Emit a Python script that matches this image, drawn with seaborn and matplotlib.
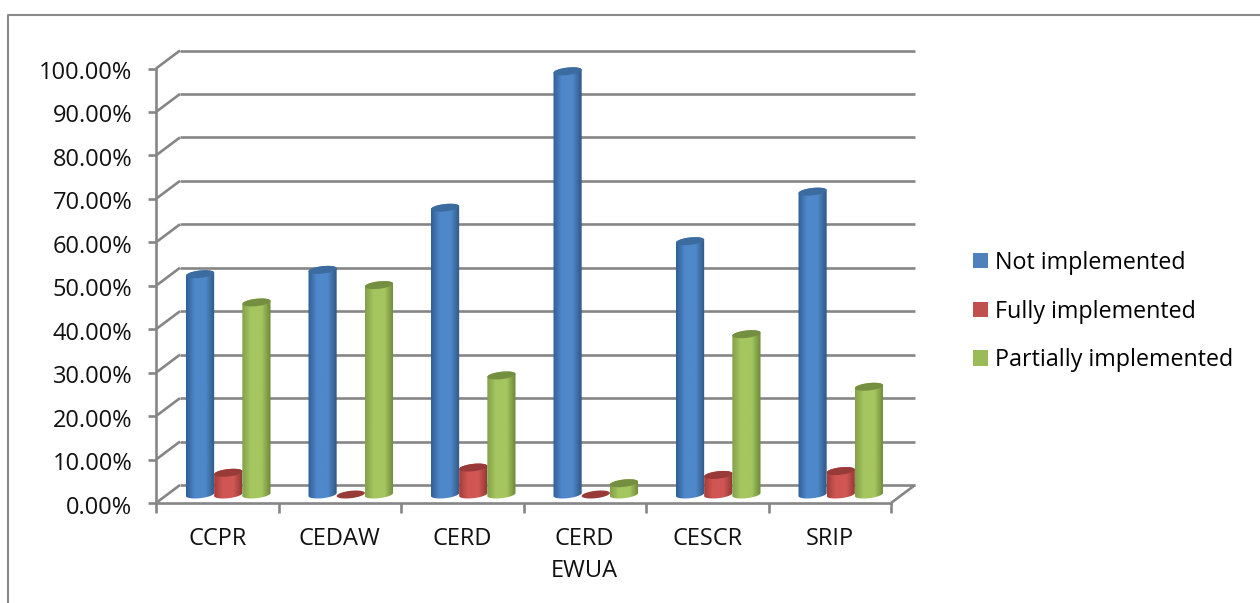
import numpy as np
import pandas as pd
import seaborn as sns
import matplotlib.pyplot as plt
from matplotlib.colors import LinearSegmentedColormap
from matplotlib.lines import Line2D
from matplotlib.patches import Polygon
from matplotlib.transforms import Affine2D

categories = ['CCPR', 'CEDAW', 'CERD', 'CERD\nEWUA', 'CESCR', 'SRIP']
series_names = ['Not implemented', 'Fully implemented', 'Partially implemented']
not_implemented = [50.7, 51.7, 66.0, 97.4, 58.3, 69.7]
fully_implemented = [5.0, 0.0, 6.2, 0.0, 4.5, 5.4]
partially_implemented = [44.2, 48.2, 27.4, 2.6, 36.9, 24.8]
y_ticks = list(range(0, 101, 10))

W, H = 1260, 603
X0, X1 = 156, 891          # front axis, pixels
Y0, Y100 = 503, 68.5
DEPTH_X, DEPTH_Y = 24, 18  # offset of the back wall
BAR_DX, BAR_DY = 11, 8.5   # bars stand in the middle of the floor
GREY = '#868686'
FONT = 'Open Sans'
FS = 17

colors = {'Not implemented': '#4f81bd', 'Fully implemented': '#c0504d',
          'Partially implemented': '#9bbb59'}
# edge, middle, edge, top cap
shades = {'Not implemented': ('#2f5f95', '#4f88ca', '#2f5884', '#3c6ba0'),
          'Fully implemented': ('#a33d3b', '#d05654', '#8f3633', '#983a38'),
          'Partially implemented': ('#83a04a', '#a5c65f', '#6c8838', '#748f3f')}

df = pd.DataFrame({
    'treaty': categories * 3,
    'status': np.repeat(series_names, len(categories)),
    'share': not_implemented + fully_implemented + partially_implemented,
})


def place(fig, x0, x1, y_bottom, y_top):
    return fig.add_axes([x0 / W, 1 - y_bottom / H, (x1 - x0) / W, (y_bottom - y_top) / H])


def cylinder(ax, bar, color_set, px_y):
    """Turn a flat seaborn bar into a shaded cylinder."""
    x0, w, v = bar.get_x(), bar.get_width(), bar.get_height()
    cx = x0 + w / 2
    hh = 3.7 / px_y
    tilt = 1.5 / px_y
    t = np.linspace(0, 2 * np.pi, 80)
    ex = cx + w / 2 * np.cos(t)
    ey = hh * np.sin(t) + tilt * np.cos(t)
    z = 3
    if v > 0:
        low = t >= np.pi
        high = t <= np.pi
        outline = np.vstack([np.column_stack([ex[low], ey[low]]),
                             np.column_stack([ex[high], ey[high] + v])])
        clip = Polygon(outline, transform=ax.transData)
        cmap = LinearSegmentedColormap.from_list('c', [(0, color_set[0]), (0.3, color_set[1]),
                                                       (0.68, color_set[1]), (1, color_set[2])])
        im = ax.imshow(np.linspace(0, 1, 64).reshape(1, -1), cmap=cmap, aspect='auto',
                       extent=[x0, x0 + w, -2 * hh, v + 2 * hh], zorder=z)
        im.set_clip_box(ax.figure.bbox)
        im.set_clip_path(clip)
    bar.set_visible(False)
    ax.fill(ex, ey + v, color=color_set[3], lw=0, zorder=z + 1, clip_on=False)


fig = plt.figure(figsize=(W / 100, H / 100), dpi=100, facecolor='white')
plt.rcParams['font.family'] = [FONT, 'DejaVu Sans']

ax = place(fig, X0, X1, Y0, Y100)
px_x = (X1 - X0) / len(categories)
px_y = (Y0 - Y100) / 100
ax.set_xlim(-0.5, len(categories) - 0.5)
ax.set_ylim(0, 100)
ax.patch.set_alpha(0)

# back wall grid and the floor
dx, dy = DEPTH_X / px_x, DEPTH_Y / px_y
line_kw = dict(color=GREY, lw=1.9, clip_on=False, solid_capstyle='butt')
for v in y_ticks:
    ax.plot([-0.5 + dx, 5.5 + dx], [v + dy, v + dy], **line_kw)
    ax.plot([-0.5, -0.5 + dx], [v, v + dy], **line_kw)
ax.plot([5.5, 5.5 + dx], [0, dy], **line_kw)

sns.despine(ax=ax)
for side in ['left', 'bottom']:
    ax.spines[side].set_color(GREY)
    ax.spines[side].set_linewidth(1.9)
ax.set_yticks(y_ticks)
ax.set_yticklabels([f'{v:.2f}%' for v in y_ticks], fontsize=FS, family=FONT, color='#111111')
ax.set_xticks(np.arange(-0.5, 6))
ax.set_xticklabels([])
ax.set_xticks(np.arange(len(categories)), minor=True)
ax.set_xticklabels(categories, minor=True, fontsize=FS, family=FONT, color='#111111', linespacing=1.45)
ax.tick_params(axis='y', length=6, width=1.9, color=GREY, pad=11)
ax.tick_params(axis='x', which='major', length=7, width=1.9, color=GREY)
ax.tick_params(axis='x', which='minor', length=0, pad=17.5)
for label in ax.get_yticklabels():
    label.set_transform(label.get_transform() + Affine2D().translate(0, -1.5))

# bars live on a transparent axes shifted onto the middle of the floor
bar_ax = place(fig, X0 + BAR_DX, X1 + BAR_DX, Y0 - BAR_DY, Y100 - BAR_DY)
bar_ax.patch.set_alpha(0)
sns.barplot(data=df, x='treaty', y='share', hue='status', hue_order=series_names,
            palette=colors, width=0.69, gap=0, saturation=1, linewidth=0, ax=bar_ax)
for name, container in zip(series_names, bar_ax.containers):
    for bar in container:
        cylinder(bar_ax, bar, shades[name], px_y)
bar_ax.set_xlim(-0.5, len(categories) - 0.5)
bar_ax.set_ylim(0, 100)
for spine in bar_ax.spines.values():
    spine.set_visible(False)
bar_ax.set_xticks([])
bar_ax.set_yticks([])
bar_ax.set_xlabel('')
bar_ax.set_ylabel('')

sns.move_legend(bar_ax, 'center left', bbox_to_anchor=(973 / W, 1 - 311.5 / H),
                bbox_transform=fig.transFigure, title=None, frameon=False,
                prop={'family': FONT, 'size': 16.75}, handlelength=0.645, handleheight=0.645,
                labelspacing=1.06, handletextpad=0.3, borderpad=0, borderaxespad=0)

# chart area border, only top and left fall inside the crop
fig.add_artist(Line2D([8 / W, 8 / W, 1], [0, 1 - 14.5 / H, 1 - 14.5 / H],
                      color='#8a8a8a', lw=1.5, transform=fig.transFigure))

plt.savefig('out.png', dpi=100)
